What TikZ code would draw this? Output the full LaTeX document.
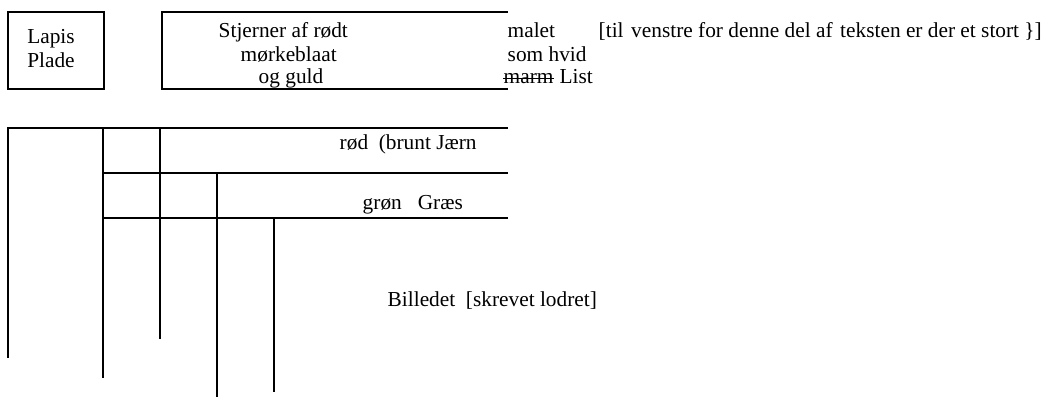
\documentclass[tikz,border=0pt]{standalone}
\usepackage{fontspec}
\setmainfont{Liberation Serif}
\usetikzlibrary{math}
\tikzset{txt/.style={anchor=base west, inner sep=0pt, font=\fontsize{16}{19}\selectfont},
	txtc/.style={anchor=base, inner sep=0pt, font=\fontsize{16}{19}\selectfont}}

\begin{document}
\begin{tikzpicture}[x=0.75pt,y=-0.75pt,line width=1.1pt]
	\tikzmath{\ta=12; \tb=89; \rr=508;
	\ha=128; \hb=173; \hc=218;
	\va=8; \vb=103; \vc=160; \vd=217; \ve=274;
	}
	\useasboundingbox (0,0) rectangle (1049,398);
	% the two boxes at the top
	\draw (8,\ta) rectangle (104,\tb);
	\draw (\rr,\ta) -- (162,\ta) -- (162,\tb) -- (\rr,\tb);
	\node[txtc] (lapis) at (51,44) {Lapis};
	\node[txtc] (plade) at (51,67.5) {Plade};
	\node[txt] (stjerner) at (218,37.7) {Stjerner af rødt};
	\node[txt] (blaat) at (240,61.5) {mørkeblaat};
	\node[txt] (guld) at (258,83.3) {og guld};
	\node[txt] (malet) at (507,37.7) {malet};
	\node[txt] (note) at (598,37.7) {[til\hspace{5.7pt}venstre for denne del af\hspace{5.7pt}teksten er der et stort \}]};
	\node[txt] (hvid) at (507,61.5) {som hvid};
	\node[txt] (marm) at (503,83.3) {marm};
	\node[txt, anchor=base west] (list) at ([xshift=3.5pt]marm.base east) {List};
	\draw[line width=0.7pt] ([yshift=3.8pt]marm.base west) -- ([yshift=3.8pt]marm.base east);
	% the stripes below
	\draw (\va,358) -- (\va,\ha) -- (\rr,\ha);
	\draw (\vb,378) -- (\vb,\ha);
	\draw (\vc,339) -- (\vc,\ha);
	\draw (\vb,\hb) -- (\rr,\hb);
	\draw (\vd,397) -- (\vd,\hb);
	\draw (\vb,\hc) -- (\rr,\hc);
	\draw (\ve,392) -- (\ve,\hc);
	\node[txt] (rod) at (339,149.5) {rød\ \ (brunt Jærn};
	\node[txt] (gron) at (362,210) {grøn\ \ \ Græs};
	\node[txt] (billedet) at (387,307) {Billedet\ \ [skrevet lodret]};
\end{tikzpicture}
\end{document}
